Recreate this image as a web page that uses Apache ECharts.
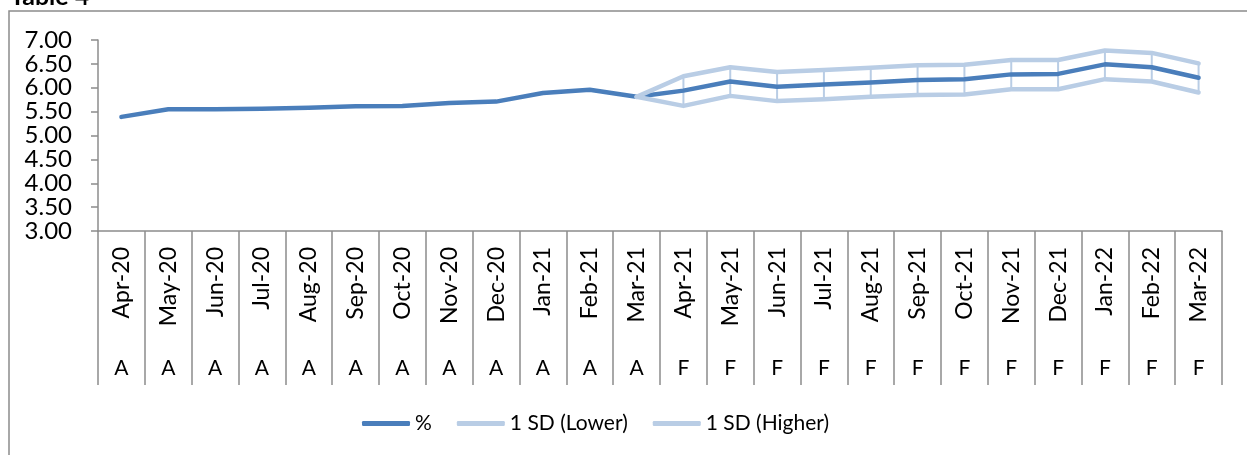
<!DOCTYPE html>
<html>
<head>
<meta charset="utf-8">
<script src="https://cdn.jsdelivr.net/npm/echarts@6/dist/echarts.min.js"></script>
<style>
  html, body { margin: 0; padding: 0; background: #fff; }
  #chart { width: 1247px; height: 455px; }
</style>
</head>
<body>
<div id="chart"></div>
<script>
// Monthly series: actuals (A) through Mar-21, forecasts (F) after that
const months = ['Apr-20','May-20','Jun-20','Jul-20','Aug-20','Sep-20','Oct-20','Nov-20','Dec-20','Jan-21','Feb-21','Mar-21',
                'Apr-21','May-21','Jun-21','Jul-21','Aug-21','Sep-21','Oct-21','Nov-21','Dec-21','Jan-22','Feb-22','Mar-22'];
const kinds = ['A','A','A','A','A','A','A','A','A','A','A','A',
               'F','F','F','F','F','F','F','F','F','F','F','F'];
const pct = [5.39, 5.55, 5.55, 5.56, 5.58, 5.61, 5.62, 5.68, 5.71, 5.89, 5.96, 5.81,
             5.94, 6.13, 6.02, 6.07, 6.11, 6.16, 6.18, 6.28, 6.29, 6.49, 6.43, 6.21];
const sdLower = [null, null, null, null, null, null, null, null, null, null, null, 5.81,
                 5.62, 5.83, 5.72, 5.76, 5.81, 5.85, 5.86, 5.97, 5.97, 6.18, 6.13, 5.90];
const sdHigher = [null, null, null, null, null, null, null, null, null, null, null, 5.81,
                  6.24, 6.43, 6.33, 6.37, 6.42, 6.47, 6.48, 6.58, 6.58, 6.78, 6.73, 6.51];
const yTicks = { min: 3, max: 7, step: 0.5 };

const FONT = 'Lato, "Open Sans", sans-serif';
const GRAY = '#8c8c8c';
const DARK = '#4a7ebb';
const LIGHT = '#b9cde5';

// high-low connector pairs [index, low, high]
const hiLo = [];
for (let i = 0; i < months.length; i++) {
  if (sdLower[i] != null && sdHigher[i] != null) hiLo.push([i, sdLower[i], sdHigher[i]]);
}

const chart = echarts.init(document.getElementById('chart'), null, { renderer: 'canvas' });

chart.setOption({
  animation: false,
  backgroundColor: '#fff',
  textStyle: { fontFamily: FONT },
  graphic: [
    {
      type: 'rect', silent: true, z: 0,
      shape: { x: 9, y: 11, width: 1400, height: 600 },
      style: { fill: null, stroke: GRAY, lineWidth: 1.5 }
    },
    {
      type: 'text', silent: true, z: 10,
      x: 10, y: 9,
      style: { text: 'Table 4', font: 'bold 25px ' + FONT, fill: '#000', verticalAlign: 'bottom', align: 'left' }
    }
  ],
  grid: { left: 98, right: 25, top: 40, bottom: 224, containLabel: false },
  legend: {
    left: 357, top: 408,
    itemWidth: 48, itemHeight: 5, itemGap: 25,
    icon: 'roundRect',
    data: ['%', '1 SD (Lower)', '1 SD (Higher)'],
    textStyle: { fontFamily: FONT, fontSize: 21, color: '#000' }
  },
  xAxis: [
    {
      type: 'category', data: months, position: 'bottom', boundaryGap: true,
      axisLine: { show: true, lineStyle: { color: GRAY, width: 1.5 } },
      axisTick: { show: true, interval: 0, length: 154, lineStyle: { color: GRAY, width: 1.5 } },
      axisLabel: { interval: 0, rotate: 90, margin: 16, fontFamily: FONT, fontSize: 23, color: '#000' },
      splitLine: { show: false }
    },
    {
      type: 'category', data: kinds, position: 'bottom', boundaryGap: true,
      axisLine: { show: false }, axisTick: { show: false },
      axisLabel: { interval: 0, margin: 127, fontFamily: FONT, fontSize: 21, color: '#000' },
      splitLine: { show: false }
    }
  ],
  yAxis: {
    type: 'value', min: yTicks.min, max: yTicks.max, interval: yTicks.step,
    axisLine: { show: true, lineStyle: { color: GRAY, width: 1.5 } },
    axisTick: { show: true, length: 7, lineStyle: { color: GRAY, width: 1.5 } },
    axisLabel: { margin: 26, fontFamily: FONT, fontSize: 24, color: '#000',
                 formatter: v => v.toFixed(2) },
    splitLine: { show: false }
  },
  series: [
    {
      name: 'hilo', type: 'custom', z: 1, silent: true,
      data: hiLo,
      renderItem: (params, api) => {
        const a = api.coord([api.value(0), api.value(1)]);
        const b = api.coord([api.value(0), api.value(2)]);
        return { type: 'line', shape: { x1: a[0], y1: a[1], x2: b[0], y2: b[1] },
                 style: { stroke: LIGHT, lineWidth: 2 } };
      }
    },
    {
      name: '%', type: 'line', data: pct, z: 2,
      symbol: 'none', color: DARK,
      lineStyle: { color: DARK, width: 4.5, cap: 'round', join: 'round' }
    },
    {
      name: '1 SD (Lower)', type: 'line', data: sdLower, z: 3,
      symbol: 'none', color: LIGHT,
      lineStyle: { color: LIGHT, width: 4.5, cap: 'round', join: 'round' }
    },
    {
      name: '1 SD (Higher)', type: 'line', data: sdHigher, z: 3,
      symbol: 'none', color: LIGHT,
      lineStyle: { color: LIGHT, width: 4.5, cap: 'round', join: 'round' }
    }
  ]
});
</script>
</body>
</html>
